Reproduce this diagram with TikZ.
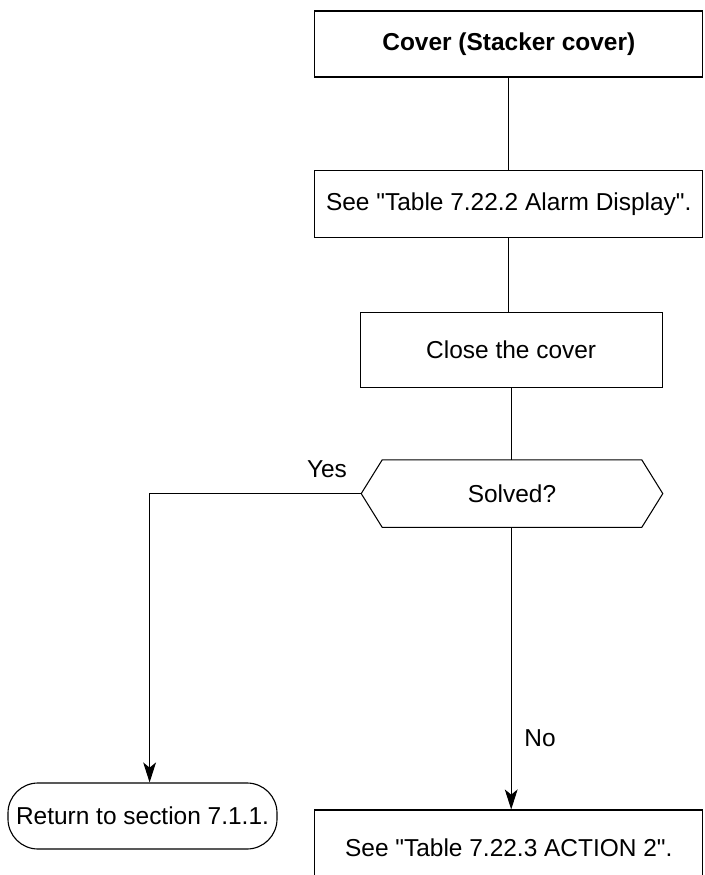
\documentclass[tikz,border=0pt]{standalone}
\usepackage{fontspec}
\setmainfont{Liberation Sans}
\usetikzlibrary{arrows.meta,positioning,calc}
\tikzset{
  box/.style ={draw,line width=.8pt,fill=white,font=\fontsize{17.4}{20}\selectfont,
               align=center,inner sep=0pt},
  term/.style={draw,rounded corners=.75cm,line width=.8pt,
               font=\fontsize{17.4}{20}\selectfont,inner sep=0pt},
  hexbox/.style={inner sep=0pt,font=\fontsize{17.4}{20}\selectfont},
  ln/.style  ={line width=.75pt},
  ar/.style  ={-{Stealth[length=5mm,width=3.2mm,inset=1.3mm]},line width=.75pt},
  lbl/.style ={font=\fontsize{17.4}{20}\selectfont},
}
\newcommand{\qt}{\textquotedbl}
\begin{document}
\begin{tikzpicture}
  \clip (0,0) rectangle (17.6,-21.875);
  % main column
  \node[box,font=\fontsize{17.4}{20}\selectfont\bfseries,minimum width=9.7cm,minimum height=1.65cm]
    (cov) at (12.72,-1.1) {Cover (Stacker cover)};
  \node[box,minimum width=9.7cm,minimum height=1.67cm]
    (alm) at (12.72,-5.1) {See \qt Table 7.22.2 Alarm Display\qt.};
  \node[box,minimum width=7.55cm,minimum height=1.875cm]
    (cls) at (12.78,-8.74) {Close the cover};
  \node[hexbox,minimum width=7.525cm,minimum height=1.675cm]
    (slv) at (12.8,-12.34) {Solved?};
  \draw[ln] (slv.west) -- ($(slv.north west)+(.525,0)$) -- ($(slv.north east)+(-.525,0)$)
    -- (slv.east) -- ($(slv.south east)+(-.525,0)$) -- ($(slv.south west)+(.525,0)$) -- cycle;
  % exits
  \node[term,minimum width=6.725cm,minimum height=1.65cm]
    (ret) at (3.5625,-20.4) {Return to section 7.1.1.};
  \node[box,minimum width=9.7cm,minimum height=1.9cm]
    (act) at (12.72,-21.2) {See \qt Table 7.22.3 ACTION 2\qt.};
  \coordinate (bend) at (3.74,-12.34);
  % connectors
  \draw[ln] (cov.south) -- (cov.south |- alm.north);
  \draw[ln] (alm.south) -- (alm.south |- cls.north);
  \draw[ln] (cls.south) -- (cls.south |- slv.north);
  \draw[ar] (slv.west) -- (bend) -- (bend |- ret.north);
  \draw[ar] (cls.south |- slv.south) -- (cls.south |- act.north);
  \node[lbl] (yes) at (8.175,-11.72) {Yes};
  \node[lbl] (no) at (13.5,-18.46) {No};
\end{tikzpicture}
\end{document}
